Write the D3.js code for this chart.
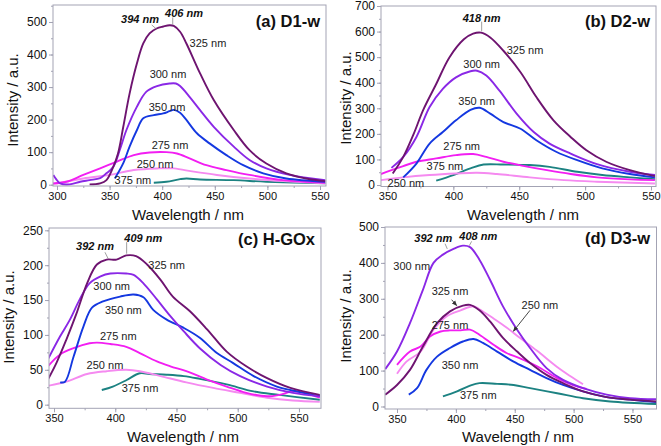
<!DOCTYPE html>
<html><head><meta charset="utf-8">
<script src="https://cdn.jsdelivr.net/npm/d3@7"></script>
<style>body{margin:0;background:#fff} svg{display:block;font-family:"Liberation Sans",Arial,sans-serif}</style>
</head><body><svg id="c" width="661" height="446"></svg>
<script>
// ---------- DATA ----------
const excitations = ["325", "300", "350", "275", "250", "375"];
const seriesColors = {"325":"#6e1470","300":"#8a28e6","350":"#1438e0","275":"#f21ef2","250":"#f58af0","375":"#1c8282"};

// Panel (a) D1-w : [wavelength nm, intensity]
const a325 = [[331,1],[341,4],[347,14],[353.5,55],[358,96],[363,178],[369,280],[376,373],[382,434],[388,465],[394.7,480],[401,486],[407,490],[411,488],[417,470],[423,434],[436,342],[449,260],[468,168],[483,106],[499,65],[518,35],[537,19],[555,11]];
const a300 = [[296.5,30],[299,18],[303,4],[312,1],[322,9],[331,14],[341,20],[347,35],[353.5,55],[360,110],[366,168],[376,240],[385,286],[395,303],[407,311],[413,311],[417,303],[426,270],[436,229],[449,178],[468,117],[483,76],[499,50],[521,30],[555,14]];
const a350 = [[355,19],[363,66],[369,117],[376,168],[382,204],[392,214],[401,219],[407,226],[411,230],[417,221],[423,199],[433,158],[445,127],[461,91],[477,60],[496,35],[518,19],[555,9]];
const a275 = [[296,4],[309,9],[325,30],[341,50],[357,71],[373,91],[388,99],[404,100],[414,96],[426,81],[442,60],[461,45],[483,30],[515,14],[555,6]];
const a250 = [[296,2],[325,19],[350,30],[373,45],[395,50],[411,50],[430,40],[452,30],[483,19],[515,11],[555,4]];
const a375 = [[392,6],[404,9],[417,17],[423,19],[436,16],[468,14],[499,9],[555,4]];

// Panel (b) D2-w
const b325 = [[354,45],[362,110],[370,201],[377,292],[387,395],[397,499],[408,570],[415,592],[421,596],[428,577],[438,525],[451,441],[463,344],[476,253],[489,188],[501,136],[516,91],[534,58],[553,35]];
const b300 = [[353,67],[362,110],[372,188],[382,305],[392,376],[402,421],[413,445],[418,447],[425,428],[435,369],[448,279],[461,207],[473,162],[489,123],[509,82],[534,52],[553,39]];
const b350 = [[362,30],[372,84],[382,162],[392,207],[402,253],[413,294],[420,302],[428,279],[438,246],[451,220],[463,175],[478,130],[494,97],[513,65],[534,43],[553,30]];
const b275 = [[345,43],[352,56],[362,74],[372,91],[387,104],[402,117],[415,121],[425,110],[438,91],[453,75],[471,58],[489,43],[509,30],[534,22],[553,19]];
const b250 = [[345,19],[362,30],[382,39],[402,45],[418,48],[433,43],[458,30],[484,19],[509,13],[553,6]];
const b375 = [[387,17],[400,39],[413,65],[423,80],[438,80],[458,78],[473,71],[494,52],[513,39],[534,30],[553,23]];

// Panel (c) H-GOx
const c325 = [[345,36],[352,60],[360,93],[368,129],[377,174],[385,201],[393,208],[401,208],[409,214],[417,213],[426,201],[437,179],[447,155],[461,134],[475,108],[491,76],[507,55],[524,38],[543,24],[567,14]];
const c300 = [[345,65],[355,98],[363,122],[371,151],[379,174],[388,184],[396,188],[409,188],[415,186],[423,174],[434,151],[445,127],[456,105],[469,81],[486,57],[502,41],[524,26],[545,17],[567,12]];
const c350 = [[355,32],[359,33],[366,69],[374,112],[381,139],[390,148],[404,155],[415,158],[423,154],[431,136],[442,122],[456,110],[469,96],[483,74],[496,60],[513,41],[532,26],[551,18],[567,12]];
const c275 = [[345,55],[355,72],[366,81],[379,88],[385,89],[396,87],[409,83],[420,74],[434,62],[445,55],[458,48],[475,36],[491,26],[507,17],[524,12],[534,14],[545,19],[556,16],[567,10]];
const c250 = [[345,27],[360,33],[377,44],[393,48],[409,50],[420,48],[437,41],[458,32],[480,24],[502,17],[524,10],[545,6],[567,4]];
const c375 = [[389,21],[398,26],[409,35],[420,45],[428,44],[442,43],[456,41],[469,37],[491,29],[513,19],[534,14],[567,7]];

// Panel (d) D3-w
const d300 = [[340,104],[350,153],[361,232],[372,325],[381,400],[389,423],[398,439],[406,448],[412,444],[420,409],[429,353],[440,279],[452,214],[463,163],[477,107],[491,74],[508,51],[528,33],[548,23],[570,20]];
const d325 = [[340,33],[350,60],[361,102],[372,167],[384,232],[395,265],[406,281],[412,283],[420,268],[429,237],[440,191],[452,153],[463,121],[477,88],[491,65],[508,42],[528,26],[548,19],[570,14]];
const d250 = [[350,91],[358,125],[370,153],[381,214],[392,251],[404,268],[415,279],[420,271],[432,245],[443,220],[454,192],[469,155],[486,110],[497,85],[508,62]];
const d275 = [[350,116],[361,153],[370,167],[378,195],[387,209],[395,212],[404,212],[412,214],[420,200],[432,172],[443,149],[454,135],[469,112],[486,79],[500,59],[511,49]];
const d350 = [[360,33],[367,51],[375,102],[384,139],[395,163],[406,181],[415,188],[423,177],[435,153],[449,125],[463,102],[477,79],[491,60],[508,42],[528,26],[548,19],[570,12]];
const d375 = [[389,28],[401,42],[412,58],[420,65],[435,63],[449,60],[463,51],[486,37],[508,23],[531,14],[570,7]];

const xTicksA = [300,350,400,450,500,550];
const xTicksBCD = [350,400,450,500,550];
const yTicksA = [0,100,200,300,400,500];
const yTicksB = [0,100,200,300,400,500,600,700];
const yTicksC = [0,50,100,150,200,250];
const yTicksD = [0,100,200,300,400,500];

const titles = ["(a) D1-w","(b) D2-w","(c) H-GOx","(d) D3-w"];
const xTitle = "Wavelength / nm";
const yTitle = "Intensity / a.u.";

// curve labels: [text, nm, intensity]
const labelsA = [["325 nm",443.5,435],["300 nm",405.5,340],["350 nm",404.6,239],["275 nm",407.4,122],["250 nm",393.2,63.6],["375 nm",372.2,14.4]];
const labelsB = [["325 nm",454.4,527.8],["300 nm",421.5,473.3],["350 nm",417.7,327.9],["275 nm",406.3,151.7],["375 nm",393.6,73.9],["250 nm",364,9]];
const labelsC = [["325 nm",442,200.7],["300 nm",397.1,169.7],["350 nm",406.6,135.3],["275 nm",402.5,98.9],["250 nm",391.6,57.3],["375 nm",420.2,23.9]];
const labelsD = [["300 nm",362.5,392],["325 nm",395,321],["250 nm",471.4,282],["275 nm",395,227.9],["350 nm",403.5,116.4],["375 nm",419,32.9]];
// peak annotations: [text, nm, intensity]
const peaksA = [["394 nm",378.9,508],["406 nm",420.7,527]];
const peaksB = [["418 nm",421.5,654.6]];
const peaksC = [["392 nm",383.5,227],["409 nm",422.9,239]];
const peaksD = [["392 nm",380.8,469.4],["408 nm",419,474]];
// leader lines: [nm1, I1, nm2, I2, arrow]
const leadersA = [[390,491,395,477,0],[410,514,410,492,0]];
const leadersB = [[421.5,639,421.5,601,0]];
const leadersC = [[391.6,218.5,394.3,209,0],[409.3,233,409.3,216.5,0]];
const leadersD = [[390.8,453.5,392.7,439,0],[413.4,460,411.4,448,0],[396.4,297.5,400.7,281,1],[463,268,448.8,209.5,1]];

// ---------- LAYOUT ----------
const layout = [
  {frame:{l:53,r:326,t:5,b:186}, xDom:[296.2,555.7], yDom:[-4,552.2], xT:[188,220], yT:[17.5,100], titleXY:[320,27]},
  {frame:{l:381,r:656,t:6,b:186.5}, xDom:[345.1,553.8], yDom:[-5.8,700], xT:[523,219.5], yT:[351,98], titleXY:[650,27]},
  {frame:{l:49,r:321,t:228,b:408.3}, xDom:[345.9,568], yDom:[-5.2,253.3], xT:[183,441.5], yT:[13.5,317], titleXY:[315,245]},
  {frame:{l:385,r:656.5,t:227,b:409}, xDom:[339.8,570.4], yDom:[-7,500], xT:[518,442], yT:[351,316], titleXY:[650,244]}
];
const panelData = [
  {series:{"325":a325,"300":a300,"350":a350,"275":a275,"250":a250,"375":a375}, xt:xTicksA, yt:yTicksA, labels:labelsA, peaks:peaksA, leaders:leadersA},
  {series:{"325":b325,"300":b300,"350":b350,"275":b275,"250":b250,"375":b375}, xt:xTicksBCD, yt:yTicksB, labels:labelsB, peaks:peaksB, leaders:leadersB},
  {series:{"325":c325,"300":c300,"350":c350,"275":c275,"250":c250,"375":c375}, xt:xTicksBCD, yt:yTicksC, labels:labelsC, peaks:peaksC, leaders:leadersC},
  {series:{"325":d325,"300":d300,"350":d350,"275":d275,"250":d250,"375":d375}, xt:xTicksBCD, yt:yTicksD, labels:labelsD, peaks:peaksD, leaders:leadersD}
];

const svg = d3.select("#c");
const defs = svg.append("defs");
defs.append("marker").attr("id","arr").attr("viewBox","0 0 10 10").attr("refX",9).attr("refY",5)
  .attr("markerWidth",6).attr("markerHeight",6).attr("orient","auto")
  .append("path").attr("d","M0,1L10,5L0,9z").attr("fill","#333");

const frameColor = "#a3a3b4";
const drawOrder = ["375","250","275","350","300","325"];

layout.forEach((L, i) => {
  const P = panelData[i];
  const f = L.frame;
  const x = d3.scaleLinear().domain(L.xDom).range([f.l, f.r]);
  const y = d3.scaleLinear().domain(L.yDom).range([f.b, f.t]);
  const g = svg.append("g");
  defs.append("clipPath").attr("id","clip"+i).append("rect")
    .attr("x",f.l).attr("y",f.t).attr("width",f.r-f.l).attr("height",f.b-f.t);

  // minor ticks
  const xs = P.xt[1]-P.xt[0], ys = P.yt[1]-P.yt[0];
  const xMinor = d3.range(P.xt[0]-xs, P.xt[P.xt.length-1]+xs, xs/2).filter(v => v>=L.xDom[0] && v<=L.xDom[1]);
  const yMinor = d3.range(P.yt[0], P.yt[P.yt.length-1]+ys, ys/2).filter(v => v>=L.yDom[0] && v<=L.yDom[1]);
  g.append("g").attr("transform",`translate(0,${f.b})`)
    .call(d3.axisBottom(x).tickValues(xMinor).tickSize(2).tickFormat(""))
    .call(s=>{s.select(".domain").remove(); s.selectAll("line").attr("stroke",frameColor);});
  g.append("g").attr("transform",`translate(${f.l},0)`)
    .call(d3.axisLeft(y).tickValues(yMinor).tickSize(2).tickFormat(""))
    .call(s=>{s.select(".domain").remove(); s.selectAll("line").attr("stroke",frameColor);});

  // major ticks
  g.append("g").attr("transform",`translate(0,${f.b})`)
    .call(d3.axisBottom(x).tickValues(P.xt).tickSize(4).tickPadding(2).tickFormat(d3.format("d")))
    .call(s=>{s.select(".domain").remove(); s.selectAll("line").attr("stroke",frameColor);
      s.selectAll("text").attr("font-size",11).attr("fill","#111").attr("font-family","Liberation Sans, Arial, sans-serif");});
  g.append("g").attr("transform",`translate(${f.l},0)`)
    .call(d3.axisLeft(y).tickValues(P.yt).tickSize(4).tickPadding(2).tickFormat(d3.format("d")))
    .call(s=>{s.select(".domain").remove(); s.selectAll("line").attr("stroke",frameColor);
      s.selectAll("text").attr("font-size",12).attr("fill","#111").attr("font-family","Liberation Sans, Arial, sans-serif");});

  // curves
  const line = d3.line().x(d=>x(d[0])).y(d=>y(d[1])).curve(d3.curveCatmullRom.alpha(0.5));
  const cg = g.append("g").attr("clip-path",`url(#clip${i})`);
  drawOrder.forEach(k => {
    cg.append("path").datum(P.series[k]).attr("d",line).attr("fill","none")
      .attr("stroke",seriesColors[k]).attr("stroke-width",1.9).attr("stroke-linejoin","round");
  });

  // frame
  g.append("rect").attr("x",f.l).attr("y",f.t).attr("width",f.r-f.l).attr("height",f.b-f.t)
    .attr("fill","none").attr("stroke",frameColor).attr("stroke-width",1);

  // leaders
  P.leaders.forEach(l => {
    g.append("line").attr("x1",x(l[0])).attr("y1",y(l[1])).attr("x2",x(l[2])).attr("y2",y(l[3]))
      .attr("stroke", l[4] ? "#333" : "#888").attr("stroke-width", l[4] ? 0.9 : 0.8)
      .attr("marker-end", l[4] ? "url(#arr)" : null);
  });

  // labels
  P.labels.forEach(t => {
    g.append("text").attr("x",x(t[1])).attr("y",y(t[2])).attr("text-anchor","middle")
      .attr("dominant-baseline","central").attr("font-size",11).attr("fill","#222").text(t[0]);
  });
  P.peaks.forEach(t => {
    g.append("text").attr("x",x(t[1])).attr("y",y(t[2])).attr("text-anchor","middle")
      .attr("dominant-baseline","central").attr("font-size",11).attr("font-weight","bold")
      .attr("font-style","italic").attr("fill","#111").text(t[0]);
  });

  // titles
  g.append("text").attr("x",L.titleXY[0]).attr("y",L.titleXY[1]).attr("text-anchor","end")
    .attr("font-size",16.5).attr("font-weight","bold").attr("fill","#111").text(titles[i]);
  g.append("text").attr("x",L.xT[0]).attr("y",L.xT[1]).attr("text-anchor","middle")
    .attr("font-size",15).attr("fill","#111").text(xTitle);
  g.append("text").attr("transform",`translate(${L.yT[0]},${L.yT[1]}) rotate(-90)`).attr("text-anchor","middle")
    .attr("font-size",15).attr("fill","#111").text(yTitle);
});
</script></body></html>
